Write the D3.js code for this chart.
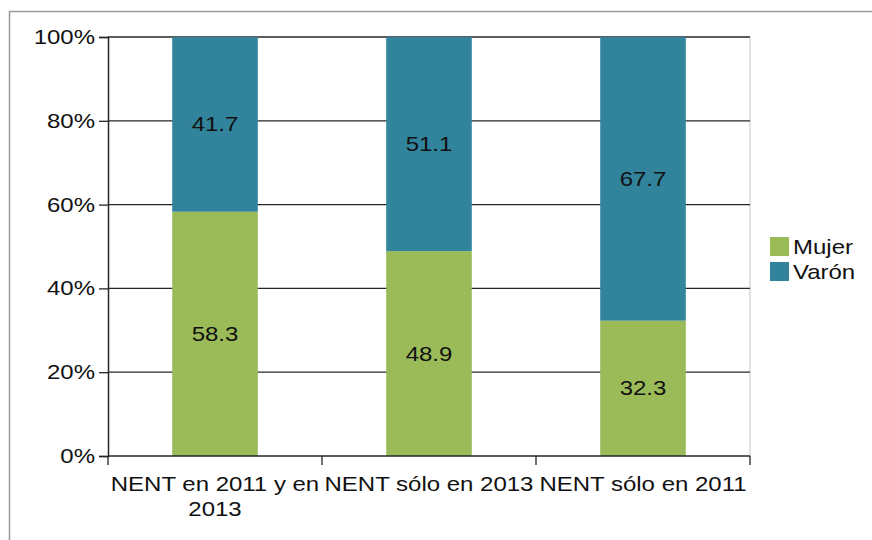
<!DOCTYPE html>
<html>
<head>
<meta charset="utf-8">
<script src="https://cdn.jsdelivr.net/npm/d3@7"></script>
<style>
  body { margin: 0; background: #fff; }
  svg { display: block; font-family: "Liberation Sans", Arial, sans-serif; }
</style>
</head>
<body>
<div id="chart"></div>
<script>
// data
const categories = ["NENT en 2011 y en 2013", "NENT sólo en 2013", "NENT sólo en 2011"];
const mujer = [58.3, 48.9, 32.3];
const varon = [41.7, 51.1, 67.7];
const seriesNames = ["Mujer", "Varón"];
const colors = ["#9bbb59", "#31849b"];
const yTicks = [0, 20, 40, 60, 80, 100];

const width = 872, height = 540;
const margin = { left: 108, right: 122, top: 37, bottom: 84 };
const fs = 20;       // font size
const stretch = 1.2; // the reference text is a bit wide

const svg = d3.select("#chart").append("svg")
  .attr("width", width)
  .attr("height", height);

// outer frame
svg.append("path")
  .attr("d", `M9.5,${height} V11.5 H${width}`)
  .attr("fill", "none")
  .attr("stroke", "#9a9a9a")
  .attr("stroke-width", 1.5);

const x = d3.scaleBand()
  .domain(categories)
  .range([margin.left, width - margin.right])
  .paddingInner(0.6)
  .paddingOuter(0.3);

const y = d3.scaleLinear()
  .domain([0, 100])
  .range([height - margin.bottom, margin.top]);

// stacked data
const rows = categories.map((c, i) => ({ cat: c, Mujer: mujer[i], "Varón": varon[i] }));
const stack = d3.stack().keys(seriesNames)(rows);

// right plot border
svg.append("line")
  .attr("x1", width - margin.right).attr("x2", width - margin.right)
  .attr("y1", margin.top).attr("y2", height - margin.bottom)
  .attr("stroke", "#d9d9d9").attr("stroke-width", 1.5);

// gridlines
svg.append("g")
  .selectAll("line")
  .data(yTicks.filter(d => d > 0))
  .join("line")
  .attr("x1", margin.left).attr("x2", width - margin.right)
  .attr("y1", d => y(d)).attr("y2", d => y(d))
  .attr("stroke", "#262626").attr("stroke-width", 1.3);

// bars
svg.append("g")
  .selectAll("g")
  .data(stack)
  .join("g")
  .attr("fill", (d, i) => colors[i])
  .selectAll("rect")
  .data(d => d)
  .join("rect")
  .attr("x", d => x(d.data.cat))
  .attr("width", x.bandwidth())
  .attr("y", d => y(d[1]))
  .attr("height", d => y(d[0]) - y(d[1]));

// value labels
svg.append("g")
  .selectAll("g")
  .data(stack)
  .join("g")
  .selectAll("text")
  .data(d => d)
  .join("text")
  .attr("x", d => x(d.data.cat) + x.bandwidth() / 2)
  .attr("y", d => (y(d[0]) + y(d[1])) / 2)
  .attr("dy", "0.35em")
  .attr("text-anchor", "middle")
  .attr("font-size", fs)
  .attr("fill", "#111")
  .text(d => (d[1] - d[0]).toFixed(1));

// y axis
const yAxis = svg.append("g")
  .attr("transform", `translate(${margin.left},0)`)
  .call(d3.axisLeft(y).tickValues(yTicks).tickFormat(d => d + "%").tickSize(9).tickPadding(4));
yAxis.select(".domain").attr("stroke", "#262626").attr("stroke-width", 1.5);
yAxis.selectAll(".tick line").attr("stroke", "#262626").attr("stroke-width", 1.3);
yAxis.selectAll("text").attr("font-size", fs).attr("fill", "#111").attr("font-family", "Liberation Sans, Arial, sans-serif");

// x axis line and boundary ticks
const bounds = d3.range(categories.length + 1).map(i => margin.left + i * (width - margin.left - margin.right) / categories.length);
svg.append("line")
  .attr("x1", margin.left).attr("x2", width - margin.right)
  .attr("y1", y(0)).attr("y2", y(0))
  .attr("stroke", "#262626").attr("stroke-width", 1.5);
svg.append("g")
  .selectAll("line")
  .data(bounds)
  .join("line")
  .attr("x1", d => d).attr("x2", d => d)
  .attr("y1", y(0)).attr("y2", y(0) + 9)
  .attr("stroke", "#262626").attr("stroke-width", 1.3);

// category labels (wrapped)
const labelLines = [["NENT en 2011 y en", "2013"], ["NENT sólo en 2013"], ["NENT sólo en 2011"]];
svg.append("g")
  .selectAll("text")
  .data(categories)
  .join("text")
  .attr("x", d => x(d) + x.bandwidth() / 2)
  .attr("y", y(0) + 35)
  .attr("text-anchor", "middle")
  .attr("font-size", fs)
  .attr("fill", "#111")
  .each(function (d, i) {
    const t = d3.select(this);
    labelLines[i].forEach((ln, j) => {
      t.append("tspan")
        .attr("x", x(d) + x.bandwidth() / 2)
        .attr("dy", j === 0 ? 0 : 25)
        .text(ln);
    });
  });

// legend
const legend = svg.append("g").attr("transform", "translate(770,237)");
seriesNames.forEach((name, i) => {
  const g = legend.append("g").attr("transform", `translate(0,${i * 25})`);
  g.append("rect").attr("width", 19).attr("height", 19).attr("fill", colors[i]);
  g.append("text").attr("x", 23).attr("y", 10).attr("dy", "0.35em")
    .attr("font-size", fs).attr("fill", "#111").text(name);
});

// widen every text horizontally around its anchor x
svg.selectAll("text").each(function () {
  const ax = +this.getAttribute("x") || 0;
  d3.select(this).attr("transform", `translate(${ax},0) scale(${stretch},1) translate(${-ax},0)`);
});
</script>
</body>
</html>
